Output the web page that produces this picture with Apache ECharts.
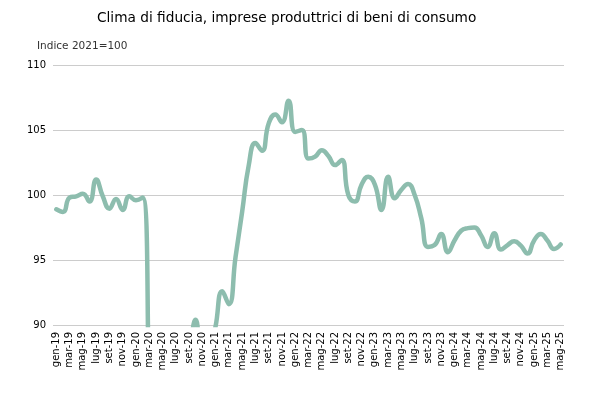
<!DOCTYPE html>
<html>
<head>
<meta charset="utf-8">
<script src="https://cdn.jsdelivr.net/npm/echarts@6/dist/echarts.min.js"></script>
<style>html,body{margin:0;padding:0;background:#fff}#c{width:599px;height:400px}</style>
</head>
<body>
<div id="c"></div>
<script>
const titleText = "Clima di fiducia, imprese produttrici di beni di consumo";
const unitText = "Indice 2021=100";
const monthNames = ["gen","feb","mar","apr","mag","giu","lug","ago","set","ott","nov","dic"];
const years = ["19","20","21","22","23","24","25"];
const v2019 = [98.9, 98.7, 99.8, 99.9, 100.1, 99.5, 101.2, 99.9, 98.95, 99.7, 98.85, 99.9];
const v2020 = [99.6, 99.8, 84, 62, 68, 77, 83, 86, 88, 90.4, 87, 87.5];
const v2021 = [89.9, 92.6, 91.6, 95.2, 98.7, 102.3, 104.0, 103.4, 105.5, 106.2, 105.6, 107.25];
const v2022 = [104.85, 105.0, 102.8, 102.95, 103.45, 103.0, 102.3, 102.7, 100.0, 99.5, 100.8, 101.4];
const v2023 = [100.8, 98.85, 101.4, 99.75, 100.4, 100.85, 100.0, 98.2, 96.0, 96.15, 97.0, 95.6];
const v2024 = [96.5, 97.25, 97.45, 97.5, 96.9, 96.0, 97.05, 95.8, 96.15, 96.45, 96.1, 95.5];
const v2025 = [96.5, 97.0, 96.5, 95.85, 96.2];
const yTicks = [90, 95, 100, 105, 110];

const values = [].concat(v2019, v2020, v2021, v2022, v2023, v2024, v2025);
const categories = [];
for (const y of years) for (const m of monthNames) if (categories.length < values.length) categories.push(m + "-" + y);

const chart = echarts.init(document.getElementById('c'), null, {renderer: 'canvas'});
chart.setOption({
  animation: false,
  title: [
    {text: titleText, left: 92, top: 6, textStyle: {fontFamily: 'DejaVu Sans', fontSize: 13.7, fontWeight: 'normal', color: '#000'}},
    {text: unitText, left: 32, top: 36, textStyle: {fontFamily: 'DejaVu Sans', fontSize: 10.5, fontWeight: 'normal', color: '#333'}}
  ],
  grid: {left: 53, right: 35, top: 65, bottom: 75, containLabel: false},
  xAxis: {
    type: 'category', data: categories, boundaryGap: true,
    axisLine: {show: false}, axisTick: {show: false},
    axisLabel: {interval: 1, rotate: 90, margin: 7, fontFamily: 'DejaVu Sans', fontSize: 10, color: '#000'},
    splitLine: {show: false}
  },
  yAxis: {
    type: 'value', min: yTicks[0], max: yTicks[yTicks.length-1], interval: 5,
    axisLine: {show: false}, axisTick: {show: false},
    axisLabel: {margin: 7, fontFamily: 'DejaVu Sans', fontSize: 10, color: '#000'},
    splitLine: {lineStyle: {color: '#cccccc', width: 1}}
  },
  series: [{
    type: 'line', data: values, smooth: 0.5, showSymbol: false, clip: true,
    lineStyle: {color: '#8dbdae', width: 4.5, cap: 'round', join: 'round'}
  }]
});
</script>
</body>
</html>
